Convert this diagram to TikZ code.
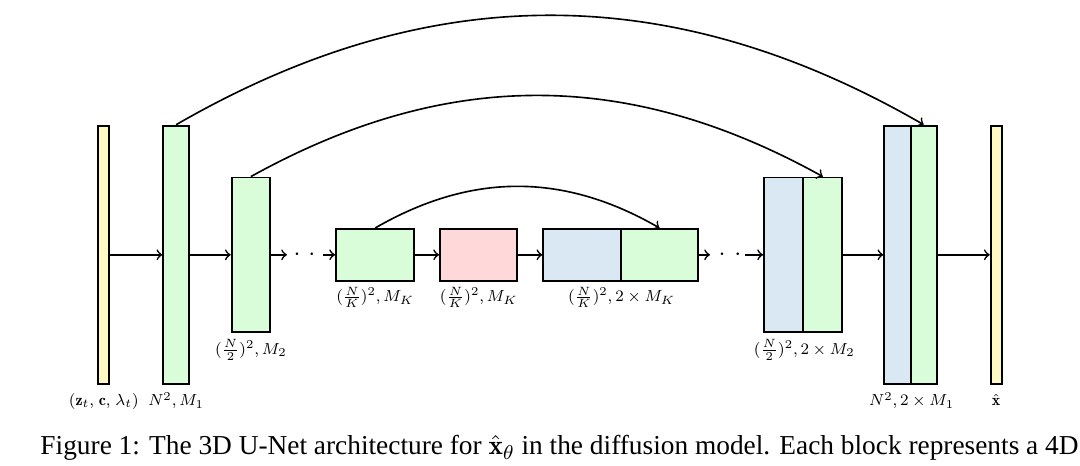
\documentclass[tikz,border=0pt]{standalone}
\usepackage{fontspec}
\newfontfamily\capfont{Liberation Serif}
\usetikzlibrary{arrows}
\definecolor{cyel}{RGB}{255,249,196}
\definecolor{cgrn}{RGB}{217,252,217}
\definecolor{cblu}{RGB}{218,232,243}
\definecolor{cred}{RGB}{255,217,217}
\tikzset{
  blk/.style={draw, line width=0.75pt, inner sep=0pt, minimum width=#1},
  tall/.style={minimum height=258.3*0.4pt},
  mid/.style={minimum height=154.5*0.4pt},
  low/.style={minimum height=51.7*0.4pt},
  arr/.style={->, line width=0.65pt},
  lab/.style={anchor=base, inner sep=0pt, font=\footnotesize, scale=0.8, transform shape},
  dots/.style={inner sep=0pt, font=\normalsize}
}
\begin{document}
\begin{tikzpicture}[x=0.4pt, y=0.4pt]
\useasboundingbox (0,0) rectangle (1080,466);
% blocks (x centres in px, y = 466 - py)
\node[blk=11*0.4pt, tall, fill=cyel] (yin) at (103.8,211.2) {};
\node[blk=25.7*0.4pt, tall, fill=cgrn] (g1) at (176.15,211.2) {};
\node[blk=38.3*0.4pt, mid, fill=cgrn] (g2) at (250.85,211.2) {};
\node[blk=78.3*0.4pt, low, fill=cgrn] (mk1) at (375.15,211.2) {};
\node[blk=77.3*0.4pt, low, fill=cred] (mk2) at (478.65,211.2) {};
\node[blk=77.4*0.4pt, low, fill=cblu] (mk3b) at (582,211.2) {};
\node[blk=77.6*0.4pt, low, fill=cgrn] (mk3g) at (659.5,211.2) {};
\node[blk=39.3*0.4pt, mid, fill=cblu] (d2b) at (783.65,211.2) {};
\node[blk=39*0.4pt, mid, fill=cgrn] (d2g) at (822.8,211.2) {};
\node[blk=26.4*0.4pt, tall, fill=cblu] (d1b) at (897.5,211.2) {};
\node[blk=26*0.4pt, tall, fill=cgrn] (d1g) at (923.7,211.2) {};
\node[blk=11*0.4pt, tall, fill=cyel] (yout) at (996.2,211.2) {};
% dots
\node[dots] (dl) at (304.5,211.2) {$\cdot$\hspace{3.2pt}$\cdot$};
\node[dots] (dr) at (730,211.2) {$\cdot$\hspace{3.6pt}$\cdot$};
\coordinate (dla) at (287,211.2);
\coordinate (dlb) at (323,211.2);
\coordinate (dra) at (710,211.2);
\coordinate (drb) at (745,211.2);
% horizontal connectors
\draw[arr] (yin.east) -- (g1.west);
\draw[arr] (g1.east) -- (g2.west);
\draw[arr] (g2.east) -- (dla);
\draw[arr] (dlb) -- (mk1.west);
\draw[arr] (mk1.east) -- (mk2.west);
\draw[arr] (mk2.east) -- (mk3b.west);
\draw[arr] (mk3g.east) -- (dra);
\draw[arr] (drb) -- (d2b.west);
\draw[arr] (d2g.east) -- (d1b.west);
\draw[arr] (d1g.east) -- (yout.west);
% skip connections
\draw[arr] (g1.north) to[out=30, in=150] (d1g.north);
\draw[arr] (g2.north) to[out=29, in=151] (d2g.north);
\draw[arr] (mk1.north) to[out=30, in=150] (mk3g.north);
% labels
\node[lab, scale=1.0] (lyin) at ([yshift=-8.4pt]yin.south) {$(\mathbf{z}_t,\mkern2mu\mathbf{c},\mkern2mu\lambda_t)$};
\node[lab] (lg1) at ([yshift=-8.4pt]g1.south) {$N^2, M_1$};
\node[lab] (lg2) at ([yshift=-8.6pt]g2.south) {$(\frac{N}{2})^2, M_2$};
\node[lab] (lmk1) at ([yshift=-8pt]mk1.south) {$(\frac{N}{K})^2, M_K$};
\node[lab] (lmk2) at ([yshift=-8pt]mk2.south) {$(\frac{N}{K})^2, M_K$};
\node[lab] (lmk3) at ([yshift=-8pt]mk3b.south east) {$(\frac{N}{K})^2, 2\times M_K$};
\node[lab] (ld2) at ([yshift=-8.6pt]d2b.south east) {$(\frac{N}{2})^2, 2\times M_2$};
\node[lab] (ld1) at ([yshift=-8.4pt]d1b.south east) {$N^2, 2\times M_1$};
\node[lab] (lyout) at ([yshift=-8.4pt]yout.south) {$\hat{\mathbf{x}}$};
% caption
\node[anchor=base west, inner sep=0pt, font=\capfont\fontsize{10.94}{13.1}\selectfont] (cap) at (40,11) {Figure 1: The 3D U-Net architecture for $\hat{\mathbf{x}}_\theta$ in the diffusion model. Each block represents a 4D};
\end{tikzpicture}
\end{document}
